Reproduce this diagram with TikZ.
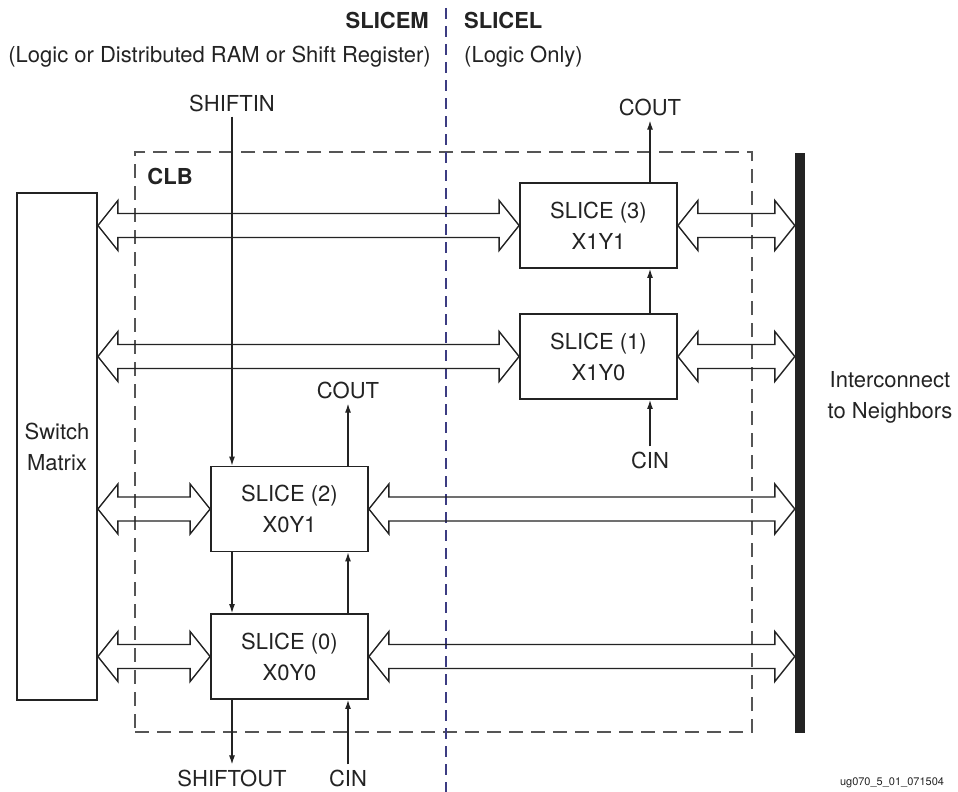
\documentclass[tikz,border=0pt]{standalone}
\usepackage{fontspec}
\setmainfont{TeX Gyre Heros}
\usetikzlibrary{arrows.meta,calc}
\definecolor{ink}{RGB}{35,35,35}
\definecolor{clbgray}{RGB}{85,85,85}
\definecolor{splitblue}{RGB}{60,60,130}

\begin{document}
\begin{tikzpicture}[
  x=1pt, y=-1pt,
  font=\fontsize{22}{31}\selectfont, color=ink,
  slice/.style={draw,line width=1.8pt,minimum width=157pt,minimum height=85pt,
                align=center,inner sep=0pt,fill=white},
  lbl/.style={inner sep=5pt,align=center},
  hdr/.style={lbl,font=\fontsize{22}{31}\selectfont\bfseries},
  ar/.style={-{Latex[length=9pt,width=6pt]},line width=1.2pt},
  clb/.style={draw=clbgray,line width=1.5pt,dash pattern=on 14pt off 8pt},
  split/.style={draw=splitblue,line width=1.5pt,dash pattern=on 11pt off 7pt},
  bus/.style={line width=1.4pt,line join=miter,
    to path={let \p1=(\tikztostart), \p2=(\tikztotarget) in
      (\p1) -- (\x1+20pt,\y1+25pt) -- (\x1+20pt,\y1+12pt) -- (\x2-20pt,\y1+12pt)
      -- (\x2-20pt,\y1+25pt) -- (\p2) -- (\x2-20pt,\y1-25pt) -- (\x2-20pt,\y1-12pt)
      -- (\x1+20pt,\y1-12pt) -- (\x1+20pt,\y1-25pt) -- cycle}}
]
\useasboundingbox (0,0) rectangle (958,792);

\node[clb,minimum width=617pt,minimum height=580pt] (clbbox) at (443.5,442) {};
\node[hdr,anchor=north west] (clbname) at ([xshift=8pt,yshift=-12pt]clbbox.north west) {CLB};
\draw[split] (446,8) -- (446,792);

\node[hdr,anchor=east] (slicem) at (434,20) {SLICEM};
\node[hdr,anchor=west] (slicel) at (459,20) {SLICEL};
\node[lbl,anchor=east] (slicemnote) at (436,57) {(Logic or Distributed RAM or Shift Register)};
\node[lbl,anchor=west] (slicelnote) at (459,57) {(Logic Only)};

\node[draw,line width=1.8pt,minimum width=80pt,minimum height=507pt,align=center] (sw) at (57,446.5) {Switch\\Matrix};
\node[fill=ink,minimum width=10pt,minimum height=580pt,inner sep=0pt] (bar) at (800,443) {};
\node[lbl] (ic) at (890,397) {Interconnect\\to Neighbors};

\node[slice] (s3) at (598.5,225.5) {SLICE (3)\\X1Y1};
\node[slice] (s1) at (598.5,356.5) {SLICE (1)\\X1Y0};
\node[slice] (s2) at (289.5,509) {SLICE (2)\\X0Y1};
\node[slice] (s0) at (289.5,656.5) {SLICE (0)\\X0Y0};

\node[lbl] (shin) at (232,103) {SHIFTIN};
\node[lbl] (cout3) at (650,107) {COUT};
\node[lbl] (cout2) at (348,390) {COUT};
\node[lbl] (cin1) at (650,460) {CIN};
\node[lbl] (shout) at (232,778) {SHIFTOUT};
\node[lbl] (cin0) at (348,778) {CIN};
\node[font=\fontsize{11}{13}\selectfont] (tag) at (892,783) {ug070\_5\_01\_071504};

\draw[bus] (sw.east |- s3) to (s3.west);
\draw[bus] (s3.east) to (bar.west |- s3);
\draw[bus] (sw.east |- s1) to (s1.west);
\draw[bus] (s1.east) to (bar.west |- s1);
\draw[bus] (sw.east |- s2) to (s2.west);
\draw[bus] (s2.east) to (bar.west |- s2);
\draw[bus] (sw.east |- s0) to (s0.west);
\draw[bus] (s0.east) to (bar.west |- s0);

\draw[ar] (shin) -- (s2.north -| shin);
\draw[ar] (s2.north -| cout2) -- (cout2);
\draw[ar] (s2.south -| shin) -- (s0.north -| shin);
\draw[ar] (s0.north -| cout2) -- (s2.south -| cout2);
\draw[ar] (s0.south -| shout) -- (shout);
\draw[ar] (cin0) -- (s0.south -| cin0);
\draw[ar] (s3.north -| cout3) -- (cout3);
\draw[ar] (s1.north -| cout3) -- (s3.south -| cout3);
\draw[ar] (cin1) -- (s1.south -| cin1);
\end{tikzpicture}
\end{document}
